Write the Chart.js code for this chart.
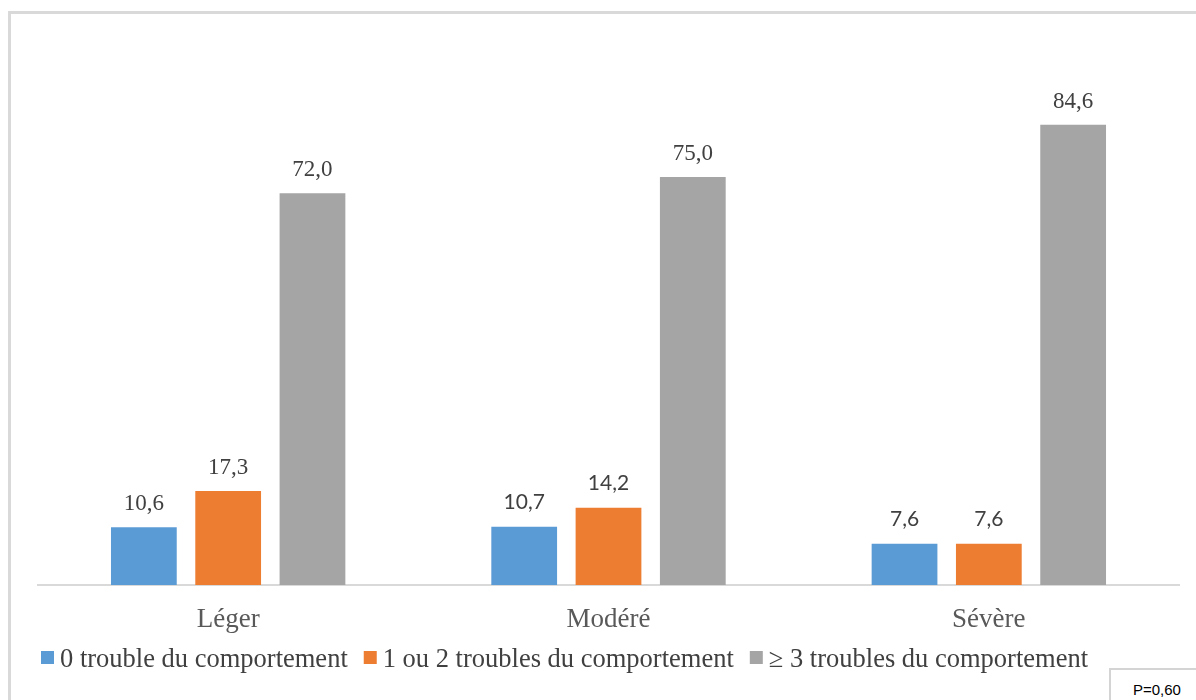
<!DOCTYPE html>
<html>
<head>
<meta charset="utf-8">
<script src="https://cdn.jsdelivr.net/npm/chart.js@4/dist/chart.umd.min.js"></script>
<style>
    html, body { margin: 0; padding: 0; background: #fff; overflow: hidden; }
    #wrap { position: relative; width: 1196px; height: 700px; }
    #frame {
        position: absolute; left: 8px; top: 11px; width: 1400px; height: 900px;
        border-left: 3px solid #d9d9d9; border-top: 3px solid #d9d9d9;
    }
    #pbox {
        position: absolute; left: 1109px; top: 668px; width: 200px; height: 100px;
        border: 2px solid #d4d4d4; background: #fff;
        font: 15px "Liberation Sans", Arial, sans-serif; color: #000;
        padding: 11px 0 0 22px; box-sizing: border-box;
    }
    .warm { position: absolute; left: -999px; top: 0; }
    canvas { position: absolute; left: 0; top: 0; }
</style>
</head>
<body>
<div id="wrap">
    <div id="frame"></div>
    <canvas id="chart" width="1196" height="700"></canvas>
    <div id="pbox">P=0,60</div>
    <span class="warm" style="font-family:'Liberation Serif'">Léger 10,6</span>
    <span class="warm" style="font-family:Lato">10,7</span>
</div>
<script>
// severity categories
var categories = ["Léger", "Modéré", "Sévère"];
var seriesNames = ["0 trouble du comportement", "1 ou 2 troubles du comportement", "\u2265 3 troubles du comportement"];
var zeroTrouble = [10.6, 10.7, 7.6];
var oneOrTwo = [17.3, 14.2, 7.6];
var threeOrMore = [72.0, 75.0, 84.6];

var colors = ["#5b9bd5", "#ed7d31", "#a5a5a5"];
var serif = "'Liberation Serif', 'DejaVu Serif', serif";
var sans = "Lato, 'Open Sans', sans-serif";
// labels written in the other font in the original
var sansLabels = { "0-1": true, "1-1": true, "0-2": true, "1-2": true };

function fmt(v) {
    return v.toFixed(1).replace(".", ",");
}

var valueLabels = {
    id: "valueLabels",
    afterDatasetsDraw: function(chart) {
        var ctx = chart.ctx;
        ctx.save();
        ctx.textAlign = "center";
        ctx.textBaseline = "alphabetic";
        chart.data.datasets.forEach(function(ds, di) {
            chart.getDatasetMeta(di).data.forEach(function(bar, i) {
                var isSans = sansLabels[di + "-" + i];
                ctx.fillStyle = "#404040";
                ctx.font = isSans ? "21px " + sans : "23px " + serif;
                ctx.fillText(fmt(ds.data[i]), bar.x, bar.y - (isSans ? 18 : 17));
            });
        });
        ctx.restore();
    }
};

var bottomLegend = {
    id: "bottomLegend",
    afterDraw: function(chart) {
        var ctx = chart.ctx;
        var x = 41, y = 651;
        ctx.save();
        ctx.font = "26.5px " + serif;
        ctx.textBaseline = "alphabetic";
        ctx.textAlign = "left";
        chart.data.datasets.forEach(function(ds) {
            ctx.fillStyle = ds.backgroundColor;
            ctx.fillRect(x, y, 13, 13);
            x += 19;
            ctx.fillStyle = "#404040";
            ctx.fillText(ds.label, x, y + 16);
            x += ctx.measureText(ds.label).width + 16;
        });
        ctx.restore();
    }
};

function draw() {
    new Chart(document.getElementById("chart"), {
        type: "bar",
        data: {
            labels: categories,
            datasets: [
                { label: seriesNames[0], data: zeroTrouble, backgroundColor: colors[0] },
                { label: seriesNames[1], data: oneOrTwo, backgroundColor: colors[1] },
                { label: seriesNames[2], data: threeOrMore, backgroundColor: colors[2] }
            ]
        },
        options: {
            responsive: false,
            animation: false,
            layout: { padding: { left: 38, right: 17, top: 41, bottom: 0 } },
            datasets: {
                bar: { categoryPercentage: 0.665, barPercentage: 0.78 }
            },
            plugins: {
                legend: { display: false },
                tooltip: { enabled: false }
            },
            scales: {
                x: {
                    grid: { display: false, drawTicks: false },
                    border: { display: true, color: "#d9d9d9", width: 2 },
                    ticks: {
                        color: "#595959",
                        padding: 19,
                        font: { family: serif, size: 27 }
                    },
                    afterFit: function(scale) { scale.height = 115; }
                },
                y: {
                    display: false,
                    min: 0,
                    max: 100
                }
            }
        },
        plugins: [valueLabels, bottomLegend]
    });
}

Promise.all([
    document.fonts.load("26px 'Liberation Serif'"),
    document.fonts.load("21px Lato")
]).then(draw, draw);
</script>
</body>
</html>
